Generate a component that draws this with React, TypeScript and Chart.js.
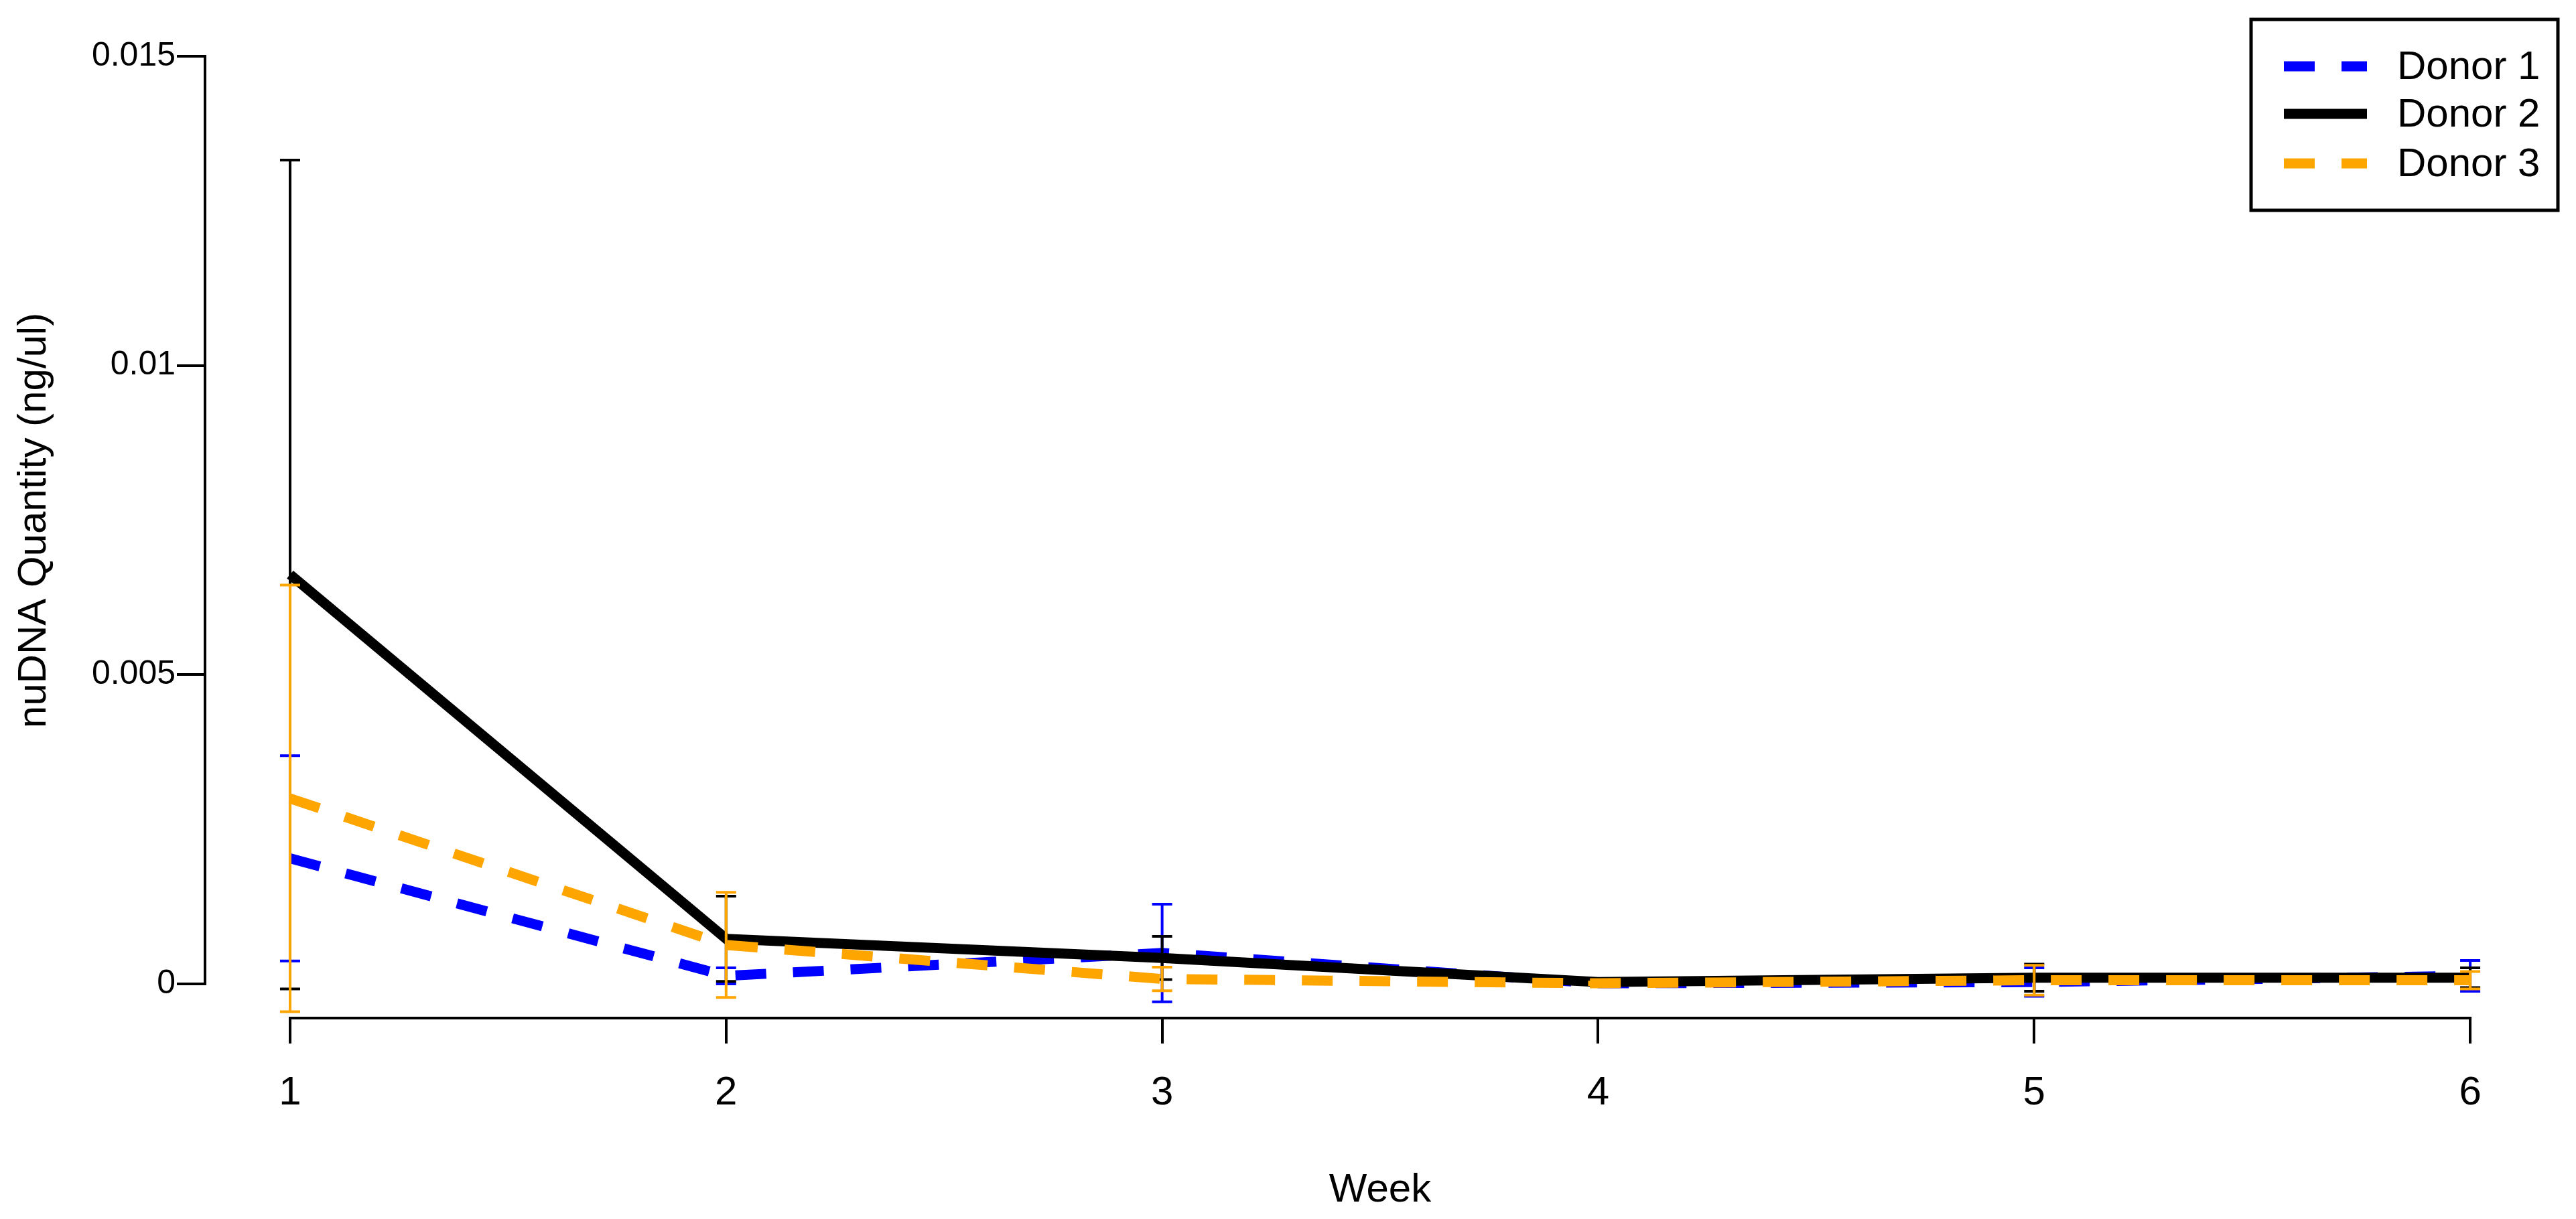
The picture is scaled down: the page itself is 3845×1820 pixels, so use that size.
import React, { useEffect, useRef } from "react";
import { Chart, registerables } from "chart.js";

Chart.register(...registerables);

// ---- data ----
const WEEKS = [1, 2, 3, 4, 5, 6];
const SERIES_NAMES = ["Donor 1", "Donor 2", "Donor 3"];
const DONOR1_MEAN = [0.00203, 0.00013, 0.0005, 0.00001, 0.00003, 0.00013];
const DONOR1_SD = [0.00166, 0.00013, 0.00079, 0.00002, 0.00023, 0.00025];
const DONOR2_MEAN = [0.00662, 0.00073, 0.00042, 0.00003, 0.0001, 0.0001];
const DONOR2_SD = [0.0067, 0.00069, 0.00035, 0.00002, 0.00022, 0.00016];
const DONOR3_MEAN = [0.003, 0.00063, 0.00008, 0.00001, 0.00006, 0.00006];
const DONOR3_SD = [0.00345, 0.00085, 0.00019, 0.00002, 0.00024, 0.00014];
const Y_TICKS = [0, 0.005, 0.01, 0.015];
const Y_TICK_LABELS = ["0", "0.005", "0.01", "0.015"];
const X_TICKS = [1, 2, 3, 4, 5, 6];
const X_TICK_LABELS = ["1", "2", "3", "4", "5", "6"];
const X_TITLE = "Week";
const Y_TITLE = "nuDNA Quantity (ng/ul)";
const COLORS = ["#0000FF", "#000000", "#FFA500"];
const DASHES = [[46, 40], [], [46, 40]];

const FONT = "'Liberation Sans', Arial, Helvetica, sans-serif";

const errorBarPlugin = {
  id: "errorBars",
  afterDatasetDraw(chart: any, args: any) {
    const ds = chart.data.datasets[args.index];
    const sd: number[] = ds.sd;
    if (!sd) return;
    const xs = chart.scales.x;
    const ys = chart.scales.y;
    const ctx = chart.ctx;
    ctx.save();
    ctx.strokeStyle = ds.borderColor;
    ctx.lineWidth = 4;
    ctx.setLineDash([]);
    ctx.lineCap = "butt";
    ds.data.forEach((p: any, i: number) => {
      const x = xs.getPixelForValue(p.x);
      const yT = ys.getPixelForValue(p.y + sd[i]);
      const yB = ys.getPixelForValue(p.y - sd[i]);
      ctx.beginPath();
      ctx.moveTo(x, yT);
      ctx.lineTo(x, yB);
      ctx.moveTo(x - 15, yT);
      ctx.lineTo(x + 15, yT);
      ctx.moveTo(x - 15, yB);
      ctx.lineTo(x + 15, yB);
      ctx.stroke();
    });
    ctx.restore();
  },
};

const axesPlugin = {
  id: "offsetAxes",
  beforeDatasetsDraw(chart: any) {
    const xs = chart.scales.x;
    const ys = chart.scales.y;
    const ctx = chart.ctx;
    const area = chart.chartArea;
    ctx.save();
    ctx.strokeStyle = "#000";
    ctx.lineWidth = 4;
    ctx.setLineDash([]);
    ctx.lineCap = "square";
    ctx.beginPath();
    ctx.moveTo(area.left, ys.getPixelForValue(Y_TICKS[0]));
    ctx.lineTo(area.left, ys.getPixelForValue(Y_TICKS[Y_TICKS.length - 1]));
    ctx.moveTo(xs.getPixelForValue(X_TICKS[0]), area.bottom);
    ctx.lineTo(xs.getPixelForValue(X_TICKS[X_TICKS.length - 1]), area.bottom);
    ctx.stroke();

    // y axis title
    ctx.save();
    ctx.translate(51, 777);
    ctx.rotate(-Math.PI / 2);
    ctx.fillStyle = "#000";
    ctx.font = `60px ${FONT}`;
    ctx.textAlign = "center";
    ctx.textBaseline = "middle";
    ctx.fillText(Y_TITLE, 0, 0);
    ctx.restore();
    ctx.restore();
  },
};

const legendPlugin = {
  id: "boxLegend",
  afterDraw(chart: any) {
    const ctx = chart.ctx;
    const left = 3360, top = 29, right = 3818, bottom = 314;
    ctx.save();
    ctx.strokeStyle = "#000";
    ctx.lineWidth = 5;
    ctx.setLineDash([]);
    ctx.strokeRect(left, top, right - left, bottom - top);
    const rows = [99, 170, 244];
    chart.data.datasets.forEach((ds: any, i: number) => {
      const y = rows[i];
      ctx.strokeStyle = ds.borderColor;
      ctx.lineWidth = 15;
      ctx.lineCap = "butt";
      ctx.setLineDash(ds.borderDash || []);
      ctx.beginPath();
      ctx.moveTo(3409, y);
      ctx.lineTo(3533, y);
      ctx.stroke();
      ctx.setLineDash([]);
      ctx.fillStyle = "#000";
      ctx.font = `60px ${FONT}`;
      ctx.textAlign = "left";
      ctx.textBaseline = "middle";
      ctx.fillText(ds.label, 3578, y + 2);
    });
    ctx.restore();
  },
};

export default function App() {
  const ref = useRef<HTMLCanvasElement | null>(null);

  useEffect(() => {
    if (!ref.current) return;
    const means = [DONOR1_MEAN, DONOR2_MEAN, DONOR3_MEAN];
    const sds = [DONOR1_SD, DONOR2_SD, DONOR3_SD];
    const orders = [3, 2, 1];
    const datasets: any[] = SERIES_NAMES.map((name, k) => ({
      label: name,
      data: WEEKS.map((w, i) => ({ x: w, y: means[k][i] })),
      sd: sds[k],
      borderColor: COLORS[k],
      backgroundColor: COLORS[k],
      borderWidth: 15,
      borderDash: DASHES[k],
      borderCapStyle: "butt",
      borderJoinStyle: "miter",
      pointRadius: 0,
      pointHoverRadius: 0,
      tension: 0,
      fill: false,
      order: orders[k],
    }));

    const chart = new Chart(ref.current, {
      type: "line",
      data: { datasets },
      options: {
        animation: false,
        responsive: false,
        devicePixelRatio: 1,
        layout: { padding: { top: 84, right: 31, left: 0, bottom: 0 } },
        plugins: {
          legend: { display: false },
          tooltip: { enabled: false },
          title: { display: false },
        },
        scales: {
          x: {
            type: "linear",
            min: 0.8049,
            max: 6.195,
            afterFit: (s: any) => {
              s.height = 300;
            },
            afterBuildTicks: (s: any) => {
              s.ticks = X_TICKS.map((v) => ({ value: v }));
            },
            grid: {
              display: true,
              drawOnChartArea: false,
              drawTicks: true,
              tickLength: 38,
              tickWidth: 4,
              tickColor: "#000",
              color: "#000",
              lineWidth: 4,
            },
            border: { display: false },
            ticks: {
              autoSkip: false,
              maxRotation: 0,
              padding: 38,
              color: "#000",
              font: { size: 60, family: FONT },
              callback: (v: any) => {
                const i = X_TICKS.indexOf(Number(v));
                return i >= 0 ? X_TICK_LABELS[i] : "";
              },
            },
            title: {
              display: true,
              text: X_TITLE,
              color: "#000",
              font: { size: 60, family: FONT },
              padding: { top: 0, bottom: 7 },
            },
          },
          y: {
            type: "linear",
            min: -0.000552,
            max: 0.015,
            afterFit: (s: any) => {
              s.width = 306;
            },
            afterBuildTicks: (s: any) => {
              s.ticks = Y_TICKS.map((v) => ({ value: v }));
            },
            grid: {
              display: true,
              drawOnChartArea: false,
              drawTicks: true,
              tickLength: 42,
              tickWidth: 4,
              tickColor: "#000",
              color: "#000",
              lineWidth: 4,
            },
            border: { display: false },
            ticks: {
              autoSkip: false,
              padding: 2,
              color: "#000",
              font: { size: 50, family: FONT },
              callback: (v: any) => {
                const i = Y_TICKS.indexOf(Number(v));
                return i >= 0 ? Y_TICK_LABELS[i] : "";
              },
            },
            title: { display: false },
          },
        },
      } as any,
      plugins: [axesPlugin, errorBarPlugin, legendPlugin],
    });

    return () => {
      chart.destroy();
    };
  }, []);

  return (
    <div
      style={{
        position: "fixed",
        left: 0,
        top: 0,
        width: 3845,
        height: 1820,
        background: "#ffffff",
      }}
    >
      <canvas
        ref={ref}
        width={3845}
        height={1820}
        style={{ display: "block", width: 3845, height: 1820 }}
      />
    </div>
  );
}
